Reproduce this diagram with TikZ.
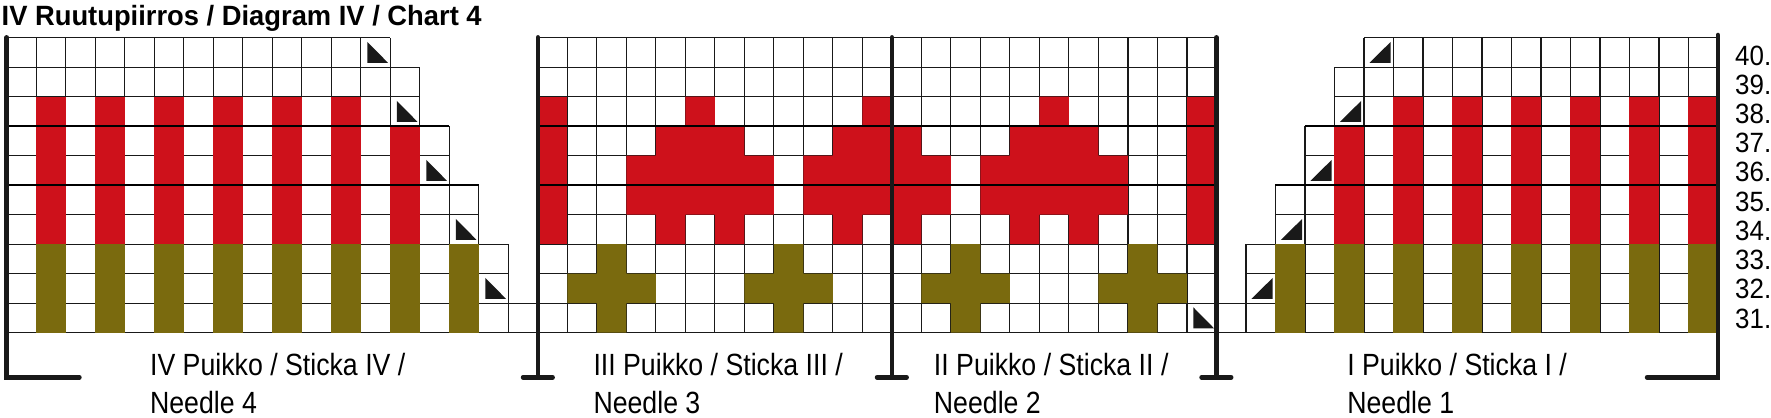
\documentclass[tikz,border=0pt]{standalone}
\usepackage{fontspec}
\usepackage{tikz}
\newfontfamily\lblfont[FakeStretch=0.87]{Liberation Sans}
\newfontfamily\numfont[FakeStretch=0.93]{Liberation Sans}
\newfontfamily\headfont[FakeStretch=0.98]{Liberation Sans}
\definecolor{knitred}{RGB}{206,17,27}
\definecolor{knitolive}{RGB}{122,106,14}

\begin{document}
\begin{tikzpicture}[
    gridline/.style={draw=black!90, line width=1.2pt},
    stepline/.style={draw=black, line width=1.4pt},
    bar/.style={draw=black!90, line width=4.5pt, line cap=round},
    tri/.style={fill=black!90},
    needlelbl/.style={font=\lblfont\fontsize{29.6}{36}\selectfont, inner sep=0pt, anchor=base west},
    rowlbl/.style={font=\numfont\fontsize{26.9}{30}\selectfont, inner sep=0pt, anchor=base west}
  ]
  \useasboundingbox (-0.2305,-2.858) rectangle (59.80,11.278);

  % Title
  \node[font=\headfont\bfseries\fontsize{26.9}{30}\selectfont, inner sep=0pt, anchor=base west] (title) at (-0.18,10.43) {IV Ruutupiirros / Diagram IV / Chart 4};

  % Grid rows (staircase ends left and right)
  \foreach \r/\e in {0/18,1/17,2/17,3/16,4/16,5/15,6/15,7/14,8/14,9/13} {
    \pgfmathtruncatemacro{\s}{59-\e}
    \draw[gridline] (0,\r) grid (\e,\r+1);
    \draw[gridline] (18,\r) grid (41,\r+1);
    \draw[gridline] (\s,\r) grid (58,\r+1);
  }

  % Red stripes, needles IV and I
  \foreach \c in {1,3,...,11} \fill[knitred] (\c,3) rectangle (\c+1,8);
  \foreach \c in {47,49,...,57} \fill[knitred] (\c,3) rectangle (\c+1,8);
  \fill[knitred] (13,3) rectangle (14,7);
  \fill[knitred] (45,3) rectangle (46,7);
  \fill[knitred] (18,3) rectangle (19,8);
  \fill[knitred] (40,3) rectangle (41,8);

  % Red motifs, needles III and II
  \foreach \m in {23,29,35}
    \fill[knitred] (\m,8) -- (\m+1,8) -- (\m+1,7) -- (\m+2,7) -- (\m+2,6) -- (\m+3,6) -- (\m+3,4)
      -- (\m+2,4) -- (\m+2,3) -- (\m+1,3) -- (\m+1,4) -- (\m,4) -- (\m,3) -- (\m-1,3) -- (\m-1,4)
      -- (\m-2,4) -- (\m-2,6) -- (\m-1,6) -- (\m-1,7) -- (\m,7) -- cycle;

  % Olive stripes and crosses
  \foreach \c in {1,3,...,15} \fill[knitolive] (\c,0) rectangle (\c+1,3);
  \foreach \c in {43,45,...,57} \fill[knitolive] (\c,0) rectangle (\c+1,3);
  \foreach \m in {20,26,32,38}
    \fill[knitolive] (\m,3) -- (\m+1,3) -- (\m+1,2) -- (\m+2,2) -- (\m+2,1) -- (\m+1,1) -- (\m+1,0)
      -- (\m,0) -- (\m,1) -- (\m-1,1) -- (\m-1,2) -- (\m,2) -- cycle;

  % Darker row lines
  \draw[stepline] (0,7) -- (15,7) (18,7) -- (41,7) (44,7) -- (58,7);
  \draw[stepline] (0,5) -- (16,5) (18,5) -- (41,5) (43,5) -- (58,5);

  % Decrease triangles
  \foreach \c/\r in {12/9,13/7,14/5,15/3,16/1,40/0}
    \fill[tri] (\c+0.22,\r+0.86) -- (\c+0.22,\r+0.15) -- (\c+0.92,\r+0.15) -- cycle;
  \foreach \c/\r in {46/9,45/7,44/5,43/3,42/1}
    \fill[tri] (\c+0.19,\r+0.15) -- (\c+0.91,\r+0.15) -- (\c+0.91,\r+0.86) -- cycle;

  % Needle bars
  \draw[bar] (0,10.01) -- (0,-1.51) -- (2.46,-1.51);
  \foreach \d in {18,30,41} {
    \draw[bar] (\d,10.01) -- (\d,-1.51);
    \draw[bar] (\d-0.5,-1.51) -- (\d+0.5,-1.51);
  }
  \draw[bar] (58,10.09) -- (58,-1.51) -- (55.6,-1.51);

  % Needle labels
  \node[needlelbl] (lbl4) at (4.85,-1.434) {IV Puikko / Sticka IV /};
  \node[needlelbl] (lbl4n) at ([yshift=-1.30cm]lbl4.base west) {Needle 4};
  \node[needlelbl] (lbl3) at (19.88,-1.434) {III Puikko / Sticka III /};
  \node[needlelbl] (lbl3n) at ([yshift=-1.30cm]lbl3.base west) {Needle 3};
  \node[needlelbl] (lbl2) at (31.42,-1.434) {II Puikko / Sticka II /};
  \node[needlelbl] (lbl2n) at ([yshift=-1.30cm]lbl2.base west) {Needle 2};
  \node[needlelbl] (lbl1) at (45.43,-1.434) {I Puikko / Sticka I /};
  \node[needlelbl] (lbl1n) at ([yshift=-1.30cm]lbl1.base west) {Needle 1};

  % Row numbers
  \foreach \n [evaluate=\n as \yy using {0.16+0.99*(\n-31)}] in {31,...,40}
    \node[rowlbl] (row\n) at (58.58,\yy) {\n.};
\end{tikzpicture}
\end{document}
